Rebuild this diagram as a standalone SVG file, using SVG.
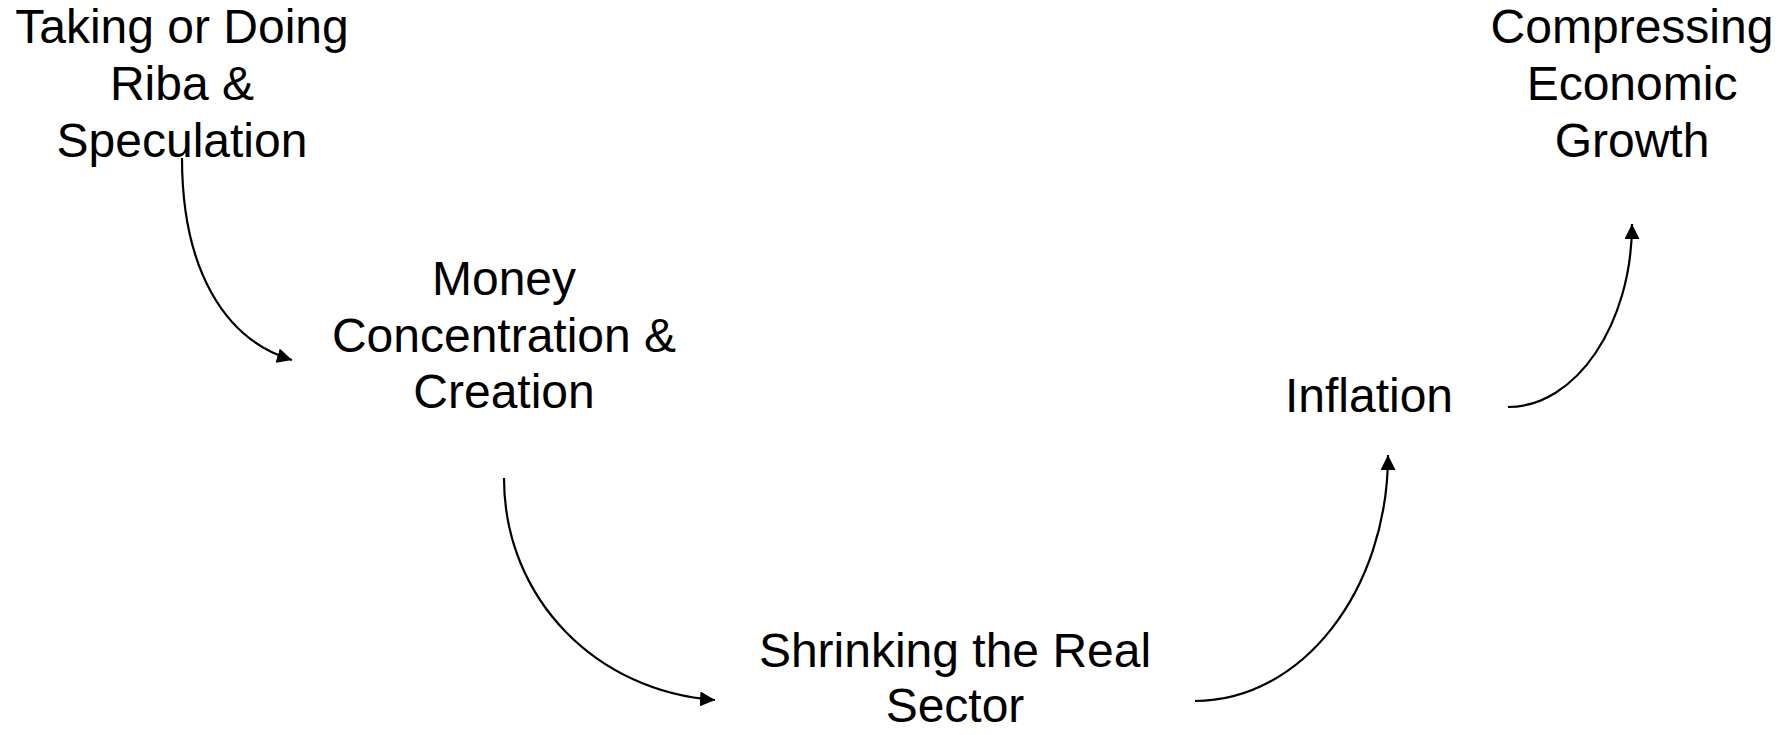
<svg xmlns="http://www.w3.org/2000/svg" width="1781" height="735" viewBox="0 0 1781 735">
<defs>
<style>
.t{font-family:"Liberation Sans",Arial,sans-serif;font-size:48px;fill:#000;text-anchor:middle}
.c{fill:none;stroke:#000;stroke-width:2.2}
</style>
<marker id="ah" markerUnits="userSpaceOnUse" markerWidth="16" markerHeight="15" refX="15" refY="7.5" orient="auto" viewBox="0 0 16 15">
<path d="M0,0 L15,7.5 L0,15 z" fill="#000"/>
</marker>
</defs>
<rect width="1781" height="735" fill="#fff"/>
<g id="connectors">
<path class="c" d="M182,158 C182,270 225,340 292,360" marker-end="url(#ah)"/>
<path class="c" d="M504,478 C504,600 598,692 715,700" marker-end="url(#ah)"/>
<path class="c" d="M1195,701 C1302,701 1388,590 1388,455" marker-end="url(#ah)"/>
<path class="c" d="M1508,407 C1576,407 1632,324 1632,224" marker-end="url(#ah)"/>
</g>
<g id="node-riba">
<text class="t" x="182" y="43">Taking or Doing</text>
<text class="t" x="182" y="100">Riba &amp;</text>
<text class="t" x="182" y="157">Speculation</text>
</g>
<g id="node-money">
<text class="t" x="504" y="295">Money</text>
<text class="t" x="504" y="352">Concentration &amp;</text>
<text class="t" x="504" y="408">Creation</text>
</g>
<g id="node-shrinking">
<text class="t" x="955" y="667">Shrinking the Real</text>
<text class="t" x="955" y="722">Sector</text>
</g>
<g id="node-inflation">
<text class="t" x="1369" y="412">Inflation</text>
</g>
<g id="node-growth">
<text class="t" x="1632" y="43">Compressing</text>
<text class="t" x="1632" y="100">Economic</text>
<text class="t" x="1632" y="157">Growth</text>
</g>
</svg>
